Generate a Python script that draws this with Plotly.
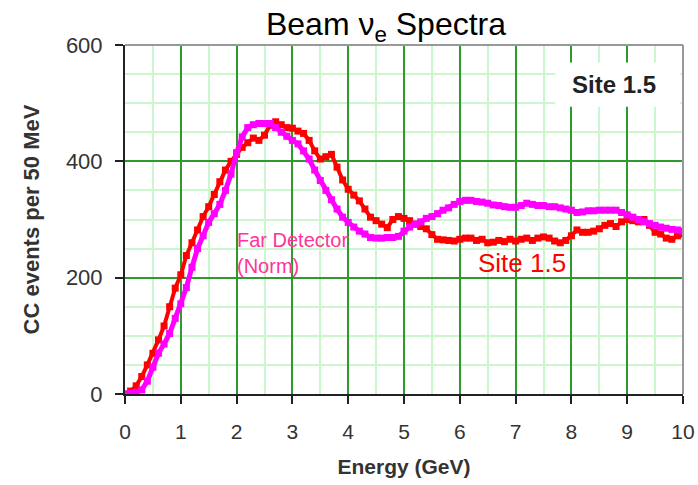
import plotly.graph_objects as go

energy = [round(i * 0.1, 1) for i in range(101)]

site15 = [0, 5, 14, 30, 50, 70, 93, 117, 150, 182,
          205, 238, 260, 282, 305, 322, 343, 365, 385, 400,
          412, 424, 432, 440, 436, 445, 462, 468, 463, 458,
          457, 452, 448, 436, 418, 404, 408, 412, 390, 368,
          352, 342, 332, 318, 304, 298, 292, 286, 300, 305,
          302, 298, 292, 288, 284, 274, 266, 265, 264, 263,
          266, 268, 268, 264, 266, 260, 261, 264, 262, 266,
          263, 266, 268, 264, 268, 270, 268, 263, 260, 264,
          272, 282, 278, 278, 280, 284, 290, 293, 288, 296,
          300, 298, 296, 300, 290, 278, 275, 268, 266, 272,
          275]

far_norm = [0, 1, 3, 7, 22, 46, 70, 86, 104, 130,
            155, 183, 218, 250, 272, 295, 310, 326, 350, 378,
            415, 442, 458, 463, 465, 465, 465, 458, 450, 443,
            436, 430, 418, 404, 385, 367, 350, 334, 318, 304,
            295, 287, 280, 275, 269, 268, 268, 269, 269, 271,
            280, 287, 292, 296, 302, 305, 310, 316, 320, 326,
            331, 333, 333, 331, 330, 328, 325, 324, 322, 321,
            321, 324, 328, 326, 324, 324, 322, 322, 320, 318,
            316, 312, 313, 315, 315, 316, 316, 316, 316, 312,
            308, 304, 300, 296, 293, 290, 287, 285, 283, 282,
            280]

x_ticks = [0, 1, 2, 3, 4, 5, 6, 7, 8, 9, 10]
y_ticks = [0, 200, 400, 600]

FONT = "Arial, Liberation Sans, sans-serif"

fig = go.Figure()
fig.add_trace(go.Scatter(
    x=energy, y=site15, mode="lines+markers", name="Site 1.5",
    line=dict(color="#ff0000", width=4),
    marker=dict(symbol="square", size=7, color="#ff0000"),
))
fig.add_trace(go.Scatter(
    x=energy, y=far_norm, mode="lines+markers", name="Far Detector (Norm)",
    line=dict(color="#ff00ff", width=5),
    marker=dict(symbol="square", size=7, color="#ff00ff"),
))

fig.update_layout(
    width=698, height=485,
    margin=dict(l=125, r=15, t=45, b=91, autoexpand=False),
    paper_bgcolor="white", plot_bgcolor="white",
    showlegend=False,
    font=dict(family=FONT, color="#333333"),
    title=dict(text="Beam ν<sub>e</sub> Spectra", x=386 / 698, xanchor="center",
               y=1 - 24 / 485, yanchor="middle",
               font=dict(family=FONT, size=32, color="black")),
    xaxis=dict(
        range=[0, 10], tickvals=x_ticks, ticktext=[str(v) for v in x_ticks],
        showgrid=True, gridcolor="#2e9a2e", gridwidth=2,
        minor=dict(dtick=0.5, showgrid=True, gridcolor="#ccf7cc", gridwidth=2),
        showline=True, linecolor="#222222", linewidth=2, mirror=False,
        ticks="outside", ticklen=8, tickwidth=2, tickcolor="#222222",
        tickfont=dict(size=21, color="#333333"), ticklabelstandoff=10,
        title=dict(text="<b>Energy (GeV)</b>", font=dict(size=21, color="#333333"), standoff=17),
        zeroline=False, automargin=False,
    ),
    yaxis=dict(
        range=[0, 600], tickvals=y_ticks, ticktext=[str(v) for v in y_ticks],
        showgrid=True, gridcolor="#2e9a2e", gridwidth=2,
        minor=dict(dtick=50, showgrid=True, gridcolor="#ccf7cc", gridwidth=2),
        showline=True, linecolor="#222222", linewidth=2, mirror=False,
        ticks="outside", ticklen=8, tickwidth=2, tickcolor="#222222",
        tickfont=dict(size=22, color="#333333"), ticklabelstandoff=8,
        title=dict(text="<b>CC events per 50 MeV</b>", font=dict(size=22, color="#333333"), standoff=20),
        zeroline=False, automargin=False,
    ),
)

# top and right gray frame
fig.add_shape(type="line", xref="paper", yref="paper", x0=0, x1=1, y0=1, y1=1,
              line=dict(color="#999999", width=2))
fig.add_shape(type="line", xref="paper", yref="paper", x0=1, x1=1, y0=0, y1=1,
              line=dict(color="#999999", width=2))

# white box behind the corner label (covers grid)
fig.add_shape(type="rect", xref="x", yref="y", x0=7.71, x1=9.95, y0=494, y1=570,
              layer="between", fillcolor="white", line=dict(width=0))
fig.add_annotation(x=8.77, y=532, xref="x", yref="y", text="<b>Site 1.5</b>",
                   showarrow=False,
                   font=dict(family=FONT, size=24, color="#222222"))
fig.add_annotation(x=1.97, y=287, xref="x", yref="y", xanchor="left", yanchor="top",
                   text="Far Detector<br>(Norm)", align="left", showarrow=False,
                   font=dict(family=FONT, size=20, color="#ff3399"))
fig.add_annotation(x=6.29, y=226, xref="x", yref="y", xanchor="left", yanchor="middle",
                   text="Site 1.5", showarrow=False,
                   font=dict(family=FONT, size=26, color="#ff0000"))

fig.write_html("out.html")
